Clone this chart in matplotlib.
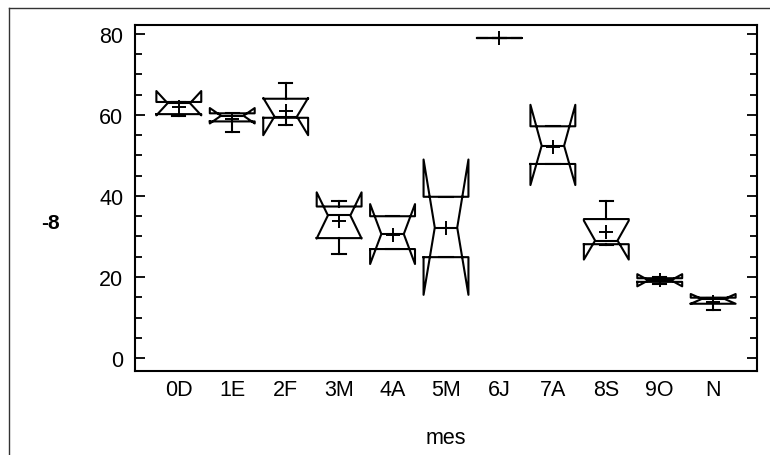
import matplotlib
matplotlib.use("Agg")
import matplotlib.pyplot as plt
from matplotlib.lines import Line2D
from matplotlib.ticker import MultipleLocator

plt.rcParams['font.family'] = ['Liberation Sans', 'DejaVu Sans']

# datos por mes
meses = ['0D', '1E', '2F', '3M', '4A', '5M', '6J', '7A', '8S', '9O', 'N']
q1 = [60.2, 58.4, 59.3, 29.6, 26.9, 24.9, 79.0, 47.9, 28.1, 18.8, 13.4]
mediana = [62.9, 59.8, 59.6, 35.2, 30.6, 32.2, 79.0, 52.4, 29.0, 19.2, 14.6]
q3 = [63.2, 60.4, 64.0, 37.4, 35.0, 39.8, 79.0, 57.2, 34.3, 19.7, 14.9]
bigote_inf = [59.8, 55.8, 57.5, 25.8, 26.9, 24.9, 79.0, 47.9, 27.9, 18.3, 11.9]
bigote_sup = [63.2, 60.4, 68.0, 38.8, 35.0, 39.8, 79.0, 57.2, 38.8, 19.9, 14.9]
media = [61.9, 59.0, 61.0, 33.7, 30.4, 32.0, 79.0, 52.1, 31.2, 19.3, 13.8]
muesca_inf = [59.9, 57.9, 55.0, 29.5, 23.2, 15.6, 79.0, 42.7, 24.3, 17.7, 13.4]
muesca_sup = [65.9, 61.7, 64.2, 40.9, 38.0, 49.0, 79.0, 62.5, 33.9, 20.7, 15.8]

stats = []
for i in range(len(meses)):
    stats.append({'label': meses[i], 'q1': q1[i], 'med': mediana[i], 'q3': q3[i],
                  'whislo': bigote_inf[i], 'whishi': bigote_sup[i], 'mean': media[i],
                  'cilo': muesca_inf[i], 'cihi': muesca_sup[i], 'fliers': []})

fig = plt.figure(figsize=(7.7, 4.56), dpi=100)
ax = fig.add_axes([135/770, 1 - 372/456, (757-135)/770, (372-26)/456])

lw = 1.5
ax.bxp(stats, positions=range(len(meses)), widths=0.84, capwidths=0.25,
       shownotches=True, showmeans=True, showfliers=False,
       boxprops=dict(color='black', linewidth=lw),
       medianprops=dict(color='black', linewidth=lw),
       whiskerprops=dict(color='black', linewidth=lw),
       capprops=dict(color='black', linewidth=lw),
       meanprops=dict(marker='+', markeredgecolor='black', markersize=10, markeredgewidth=1.4))

ax.set_xlim(-0.82, len(meses) - 1 + 0.82)
ax.set_ylim(-3.2, 82.2)
ax.yaxis.set_major_locator(MultipleLocator(20))
ax.yaxis.set_minor_locator(MultipleLocator(5))
ax.tick_params(axis='y', which='both', direction='in', left=True, right=True,
               width=1.3, labelsize=15.5, pad=8.5)
ax.tick_params(axis='y', which='major', length=7.2)
ax.tick_params(axis='y', which='minor', length=5)
ax.tick_params(axis='x', length=0, labelsize=15.5, pad=6)
for s in ax.spines.values():
    s.set_linewidth(1.5)

ax.set_xlabel('mes', fontsize=15.5, labelpad=19)

# etiqueta del eje y (aparece comprimida en el original)
fig.text(50/770, 1 - 224/456, '-8', fontsize=15, fontweight='bold', ha='center', va='center')

# marco de la figura
fig.add_artist(Line2D([8.5/770, 8.5/770], [0, 1 - 8.5/456], color='#333333', linewidth=1))
fig.add_artist(Line2D([8.5/770, 1], [1 - 8.5/456, 1 - 8.5/456], color='#333333', linewidth=1))

fig.savefig('out.png', dpi=100)
